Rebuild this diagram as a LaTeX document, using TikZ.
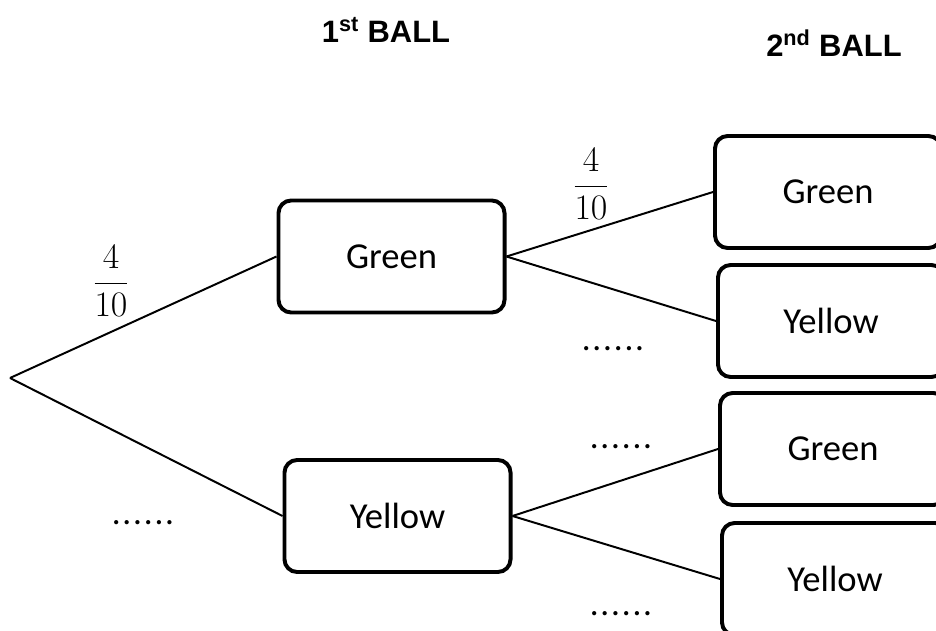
\RequirePackage{fix-cm}
\documentclass[tikz,border=0pt]{standalone}
\usepackage{amsmath}
\usepackage{fontspec}
\setmainfont{Carlito}
\newfontfamily\headfont{Liberation Sans}

% six spaced dots for the missing probabilities
\newcommand\blankdots{.\kern1.3pt.\kern1.3pt.\kern1.3pt.\kern1.3pt.\kern1.3pt.}

\tikzset{
  ballbox/.style={draw, line width=2.8pt, rounded corners=9pt,
    minimum width=5.65cm, minimum height=2.8cm,
    font=\fontsize{26}{30}\selectfont},
  branch/.style={line width=1.4pt},
  header/.style={font=\headfont\bfseries\fontsize{22}{26}\selectfont},
  prob/.style={font=\fontsize{25.5}{30}\selectfont},
  blank/.style={font=\fontsize{25}{30}\selectfont}
}

\begin{document}
\begin{tikzpicture}[x=0.025cm, y=-0.025cm]
    \useasboundingbox (0,0) rectangle (936,631);
    \clip (0,0) rectangle (936,631);

    % Column headings
    \node[header] (first) at (386,30) {1\textsuperscript{st} BALL};
    \node[header] (second) at (834,43) {2\textsuperscript{nd} BALL};

    % Start of the tree
    \coordinate (root) at (10,378);

    % First draw
    \node[ballbox] (g1) at (391.5,256.5) {Green};
    \node[ballbox] (y1) at (397.5,516) {Yellow};

    % Second draw
    \node[ballbox] (gg) at (828,192) {Green};
    \node[ballbox] (gy) at (831,321) {Yellow};
    \node[ballbox] (yg) at (833,449) {Green};
    \node[ballbox] (yy) at (835,579) {Yellow};

    % Branches
    \draw[branch] (root) -- (g1.west);
    \draw[branch] (root) -- (y1.west);
    \draw[branch] (g1.east) -- (gg.west);
    \draw[branch] (g1.east) -- (gy.west);
    \draw[branch] (y1.east) -- (yg.west);
    \draw[branch] (y1.east) -- (yy.west);

    % Probabilities on the branches
    \node[prob] (p1) at (111,281) {$\dfrac{4}{10}$};
    \node[prob] (p2) at (591,184) {$\dfrac{4}{10}$};
    \node[blank] (q1) at (143,523) {\blankdots};
    \node[blank] (q2) at (613,349) {\blankdots};
    \node[blank] (q3) at (621,447) {\blankdots};
    \node[blank] (q4) at (621,614) {\blankdots};
\end{tikzpicture}
\end{document}
